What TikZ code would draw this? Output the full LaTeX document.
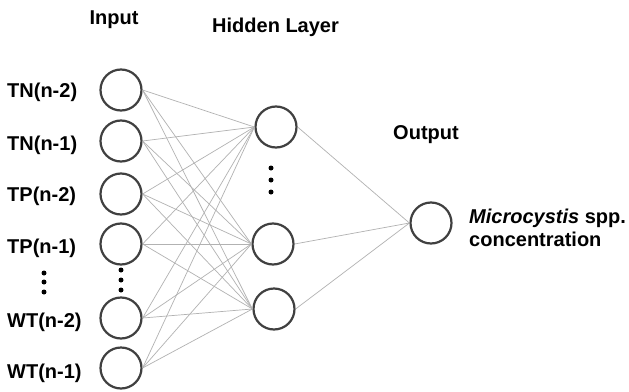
\documentclass[tikz,border=0pt]{standalone}
\usepackage{fontspec}
\setmainfont{Liberation Sans}
\begin{document}
\begin{tikzpicture}[x=1pt,y=-1pt,
  neuron/.style={circle,draw=black!75,line width=2.2pt,minimum size=41pt,inner sep=0pt},
  conn/.style={draw=black!30,line width=0.7pt},
  lbl/.style={font=\fontsize{20}{23}\selectfont\bfseries,inner sep=0pt},
  dotmark/.style={circle,fill=black,inner sep=0pt,minimum size=5pt}]
\useasboundingbox (0,0) rectangle (629,391);
\fill[white] (0,0) rectangle (629,391);
% input neurons
\node[neuron] (i1) at (121,90) {};
\node[neuron] (i2) at (121,141) {};
\node[neuron] (i3) at (121,194) {};
\node[neuron] (i4) at (121,244) {};
\node[neuron] (i5) at (121,318) {};
\node[neuron] (i6) at (121,368) {};
% hidden
\node[neuron] (h1) at (276,127) {};
\node[neuron] (h2) at (273,244) {};
\node[neuron] (h3) at (274,309) {};
% output
\node[neuron] (o) at (431,223) {};
% connections
\foreach \i in {i1,i2,i3,i4,i5,i6}{
  \foreach \h in {h1,h2,h3}{
    \draw[conn] (\i.east) -- (\h.west);
  }
}
\foreach \h in {h1,h2,h3}{
  \draw[conn] (\h.east) -- (o.west);
}
% labels
\node[lbl,anchor=west] (l1) at (7,92) {TN(n-2)};
\node[lbl,anchor=west] (l2) at (7,145) {TN(n-1)};
\node[lbl,anchor=west] (l3) at (7,196) {TP(n-2)};
\node[lbl,anchor=west] (l4) at (7,248) {TP(n-1)};
\node[lbl,anchor=west] (l5) at (7,322) {WT(n-2)};
\node[lbl,anchor=west] (l6) at (7,373) {WT(n-1)};
\node[lbl] (tin) at (114,20) {Input};
\node[lbl,anchor=west] (thid) at (212,27) {Hidden Layer};
\node[lbl] (tout) at (426,135) {Output};
\node[lbl,anchor=west,align=left] (tconc) at (469,228) {\textit{Microcystis} spp.\\concentration};
% dots
\node[dotmark] (d1) at (44,273) {};
\node[dotmark] (d2) at (44,282) {};
\node[dotmark] (d3) at (44,292) {};
\node[dotmark] (d4) at (121,270) {};
\node[dotmark] (d5) at (121,280) {};
\node[dotmark] (d6) at (121,290) {};
\node[dotmark] (d7) at (271,168) {};
\node[dotmark] (d8) at (271,180) {};
\node[dotmark] (d9) at (271,192) {};
\end{tikzpicture}
\end{document}
